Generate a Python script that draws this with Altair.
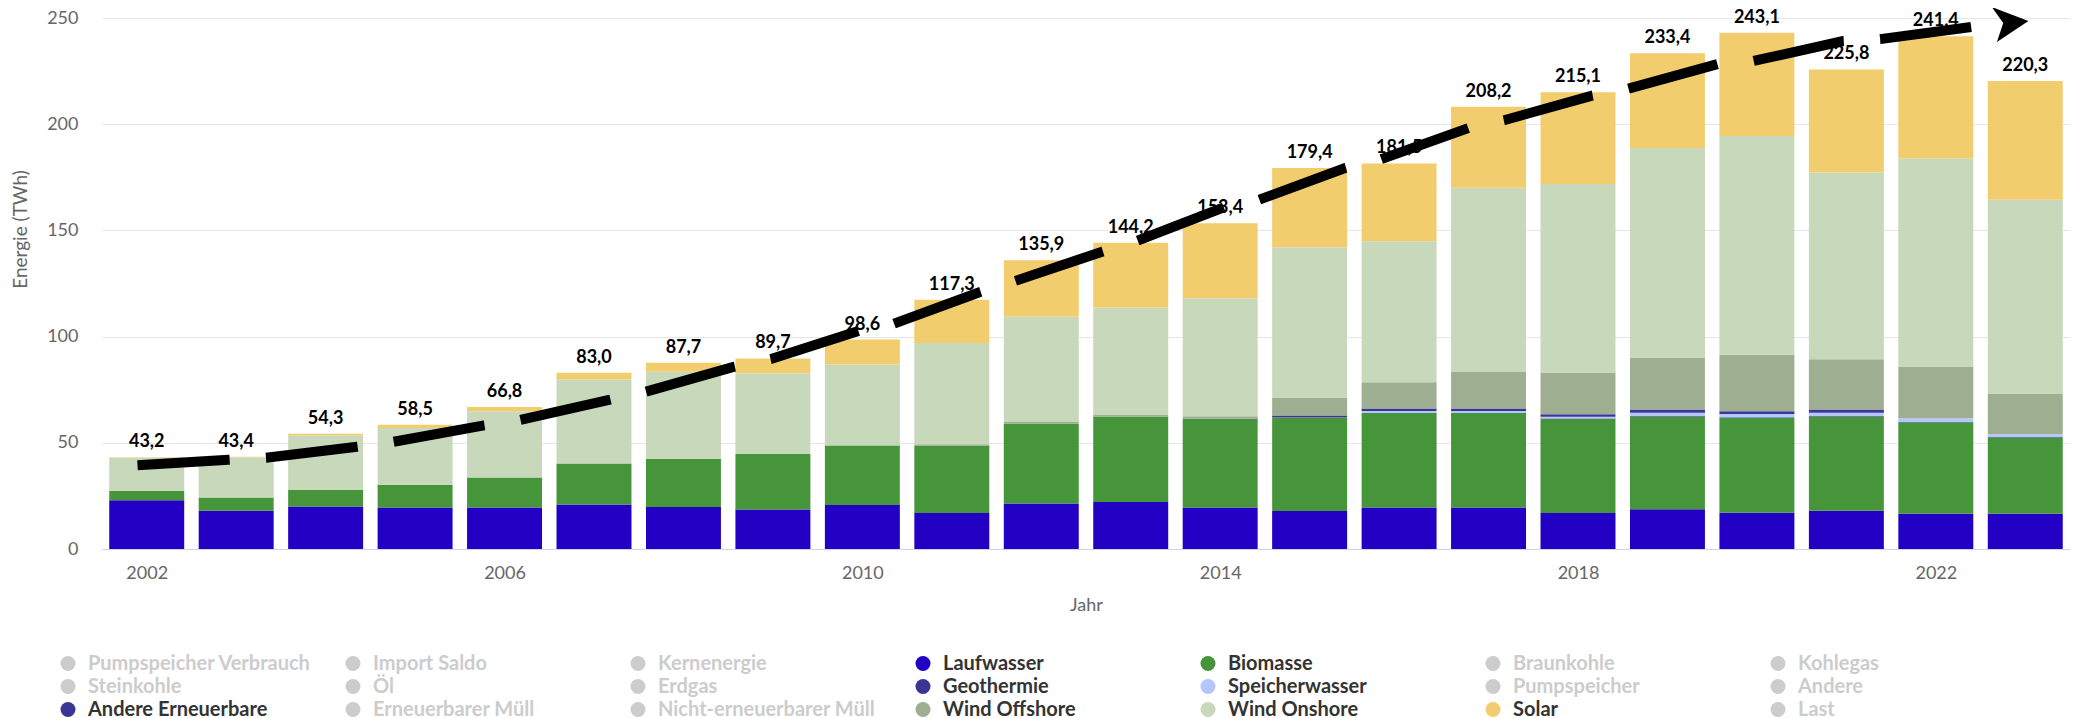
import altair as alt
import pandas as pd

years = list(range(2002, 2024))

laufwasser = [22.9, 18.0, 20.0, 19.5, 19.5, 20.9, 19.8, 18.6, 20.7, 17.0, 21.4,
              22.1, 19.5, 17.9, 19.5, 19.5, 17.0, 18.7, 17.1, 18.0, 16.6, 16.6]
biomasse = [4.4, 6.3, 7.8, 10.7, 14.2, 19.4, 22.6, 26.1, 28.0, 31.7, 37.7,
            40.3, 41.7, 44.0, 44.5, 44.5, 44.2, 43.7, 44.7, 44.4, 43.1, 35.9]
geothermie = [0, 0, 0, 0, 0, 0, 0, 0, 0, 0, 0,
              0, 0.1, 0.1, 0.2, 0.2, 0.2, 0.2, 0.2, 0.2, 0.2, 0.2]
speicherwasser = [0, 0, 0, 0, 0, 0, 0, 0, 0, 0, 0,
                  0, 0, 0, 0.8, 0.8, 0.9, 1.6, 1.6, 1.6, 1.6, 1.3]
andere_erneuerbare = [0, 0, 0, 0, 0, 0, 0, 0, 0, 0, 0,
                      0, 0, 0.8, 1.2, 1.2, 1.2, 1.5, 1.2, 1.5, 0, 0]
wind_offshore = [0, 0, 0, 0, 0, 0, 0, 0, 0.2, 0.6, 0.7,
                 0.7, 1.2, 8.5, 12.3, 17.4, 19.6, 24.5, 26.6, 23.6, 24.4, 19.0]
wind_onshore = [15.7, 18.8, 25.6, 26.8, 31.2, 39.5, 41.1, 38.0, 38.0, 47.7, 49.6,
                50.6, 55.6, 70.8, 66.4, 86.5, 88.7, 98.6, 103.1, 88.0, 98.0, 91.4]
solar = [0.2, 0.3, 0.9, 1.5, 1.9, 3.2, 4.2, 7.0, 11.7, 20.3, 26.5,
         30.5, 35.3, 37.3, 36.6, 38.1, 43.3, 44.6, 48.6, 48.5, 57.5, 55.9]

totals = [43.2, 43.4, 54.3, 58.5, 66.8, 83.0, 87.7, 89.7, 98.6, 117.3, 135.9,
          144.2, 153.4, 179.4, 181.5, 208.2, 215.1, 233.4, 243.1, 225.8, 241.4, 220.3]

stack_series = ["Laufwasser", "Biomasse", "Geothermie", "Speicherwasser",
                "Andere Erneuerbare", "Wind Offshore", "Wind Onshore", "Solar"]
stack_values = [laufwasser, biomasse, geothermie, speicherwasser,
                andere_erneuerbare, wind_offshore, wind_onshore, solar]

legend_entries = ["Pumpspeicher Verbrauch", "Import Saldo", "Kernenergie", "Laufwasser",
                  "Biomasse", "Braunkohle", "Kohlegas",
                  "Steinkohle", "Öl", "Erdgas", "Geothermie", "Speicherwasser",
                  "Pumpspeicher", "Andere",
                  "Andere Erneuerbare", "Erneuerbarer Müll", "Nicht-erneuerbarer Müll",
                  "Wind Offshore", "Wind Onshore", "Solar", "Last"]
active_colors = {
    "Laufwasser": "#2200c4",
    "Biomasse": "#47953b",
    "Geothermie": "#3a3595",
    "Speicherwasser": "#b3c6fd",
    "Andere Erneuerbare": "#3b3595",
    "Wind Offshore": "#9eae91",
    "Wind Onshore": "#c7d8bb",
    "Solar": "#f2cd6e",
}
legend_colors = [active_colors.get(n, "#cccccc") for n in legend_entries]

# trend arrow path (dash end points), in (year, TWh)
trend_year = [2001.897, 2002.916, 2003.334, 2004.352, 2004.754, 2005.771, 2006.174,
              2007.168, 2007.571, 2008.560, 2008.980, 2009.958, 2010.343, 2011.316,
              2011.707, 2012.680, 2013.077, 2014.049, 2014.424, 2015.396, 2015.799,
              2016.782, 2017.174, 2018.158, 2018.549, 2019.567, 2019.947, 2020.964,
              2021.378, 2022.395]
trend_value = [39.45, 42.04, 42.93, 48.11, 50.46, 58.22, 60.81,
               70.21, 73.97, 85.73, 89.49, 102.66, 105.95, 121.00,
               126.17, 140.0, 145.21, 160.97, 164.26, 179.31, 183.54,
               198.30, 201.88, 213.45, 216.55, 228.40, 229.62, 239.17,
               240.06, 245.80]
arrow_year = [2022.842]
arrow_value = [247.78]

# ---- tables ----
rows = []
for i, yr in enumerate(years):
    for k, (name, vals) in enumerate(zip(stack_series, stack_values)):
        rows.append({"year": yr, "series": name, "order": k, "value": vals[i]})
bars_df = pd.DataFrame(rows)

labels_df = pd.DataFrame({
    "year": years,
    "total": totals,
    "label": [f"{t:.1f}".replace(".", ",") for t in totals],
})
trend_df = pd.DataFrame({"year": trend_year, "value": trend_value,
                         "idx": list(range(len(trend_year)))})
arrow_df = pd.DataFrame({"year": arrow_year, "value": arrow_value})

FONT = "Lato"
GREY = "#666666"

x_scale = alt.Scale(domain=[2001.5, 2023.5], nice=False, zero=False)
y_scale = alt.Scale(domain=[0, 250], nice=False)

x_axis = alt.Axis(
    title="Jahr", values=[2002, 2006, 2010, 2014, 2018, 2022], format="d",
    grid=False, ticks=False, tickSize=0, domainColor="#ccd6eb", domainWidth=1,
    labelFont=FONT, labelFontSize=18, labelColor=GREY, labelPadding=24,
    labelBaseline="middle", labelFlush=False,
    titleFont=FONT, titleFontSize=18, titleFontWeight="normal", titleColor=GREY,
    titleY=56.5, titleBaseline="middle",
)
y_axis = alt.Axis(
    title="Energie (TWh)", values=[0, 50, 100, 150, 200, 250],
    grid=True, gridColor="#e6e6e6", gridWidth=1, domain=False, ticks=False, tickSize=0,
    labelFont=FONT, labelFontSize=18, labelColor=GREY, labelPadding=24,
    titleFont=FONT, titleFontSize=19, titleFontWeight="normal", titleColor=GREY,
    titleAngle=270, titleX=-82, titleY=211, titleAlign="center", titleBaseline="middle",
)

active_list = ",".join(f"'{n}'" for n in active_colors)
legend = alt.Legend(
    title=None, orient="none", legendX=-44, legendY=635.5, columns=7,
    direction="horizontal", gridAlign="all",
    symbolType="circle", symbolSize=225, symbolStrokeWidth=0, symbolOpacity=1,
    labelFont=FONT, labelFontSize=20, labelFontWeight="bold", labelLimit=400,
    labelOffset=10, rowPadding=3, columnPadding=31,
    labelColor={"expr": f"indexof([{active_list}], datum.label) >= 0 ? '#333333' : '#cccccc'"},
)

bars = alt.Chart(bars_df).transform_stack(
    stack="value", groupby=["year"], sort=[alt.SortField("order", "ascending")],
    as_=["v0", "v1"],
).transform_calculate(
    x0="datum.year - 0.419", x1="datum.year + 0.419"
).mark_bar().encode(
    x=alt.X("x0:Q", scale=x_scale, axis=x_axis),
    x2="x1:Q",
    y=alt.Y("v0:Q", scale=y_scale, axis=y_axis),
    y2="v1:Q",
    color=alt.Color("series:N",
                    scale=alt.Scale(domain=legend_entries, range=legend_colors),
                    legend=legend),
)

labels = alt.Chart(labels_df).mark_text(
    font=FONT, fontSize=18, fontWeight="bold", color="#000000",
    baseline="middle", align="center", dy=-15,
).encode(
    x=alt.X("year:Q", scale=x_scale, axis=x_axis),
    y=alt.Y("total:Q", scale=y_scale, axis=y_axis),
    text="label:N",
)

line = alt.Chart(trend_df).mark_line(
    color="#000000", strokeWidth=10, strokeDash=[92.3, 36.4], strokeCap="butt",
    interpolate="linear",
).encode(
    x=alt.X("year:Q", scale=x_scale, axis=x_axis),
    y=alt.Y("value:Q", scale=y_scale, axis=y_axis),
    order="idx:Q",
)

arrow = alt.Chart(arrow_df).mark_point(
    shape="M0.96,-0.09 L-1.07,-0.87 L-0.44,0.02 L-0.79,1.07 Z",
    size=1296, filled=True, color="#000000", opacity=1, strokeWidth=0,
).encode(
    x=alt.X("year:Q", scale=x_scale, axis=x_axis),
    y=alt.Y("value:Q", scale=y_scale, axis=y_axis),
)

chart = alt.layer(bars, labels, line, arrow).properties(
    width=1968, height=531,
    autosize=alt.AutoSizeParams(type="none"),
    padding={"left": 94, "top": 10, "right": 0, "bottom": 170},
    background="white",
).configure_view(stroke=None)

chart.save("out.html", embed_options={"renderer": "svg", "actions": False})
